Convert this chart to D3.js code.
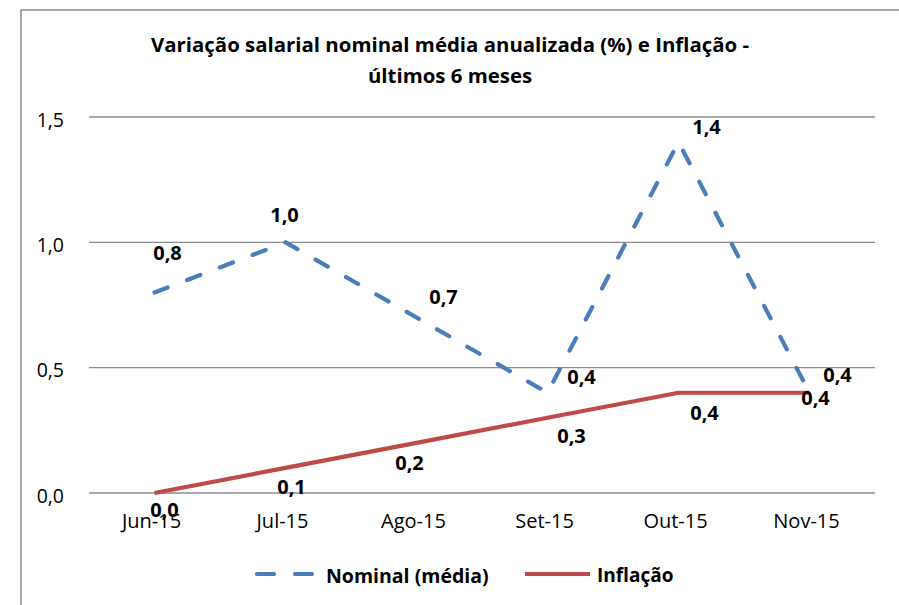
<!DOCTYPE html>
<html>
<head>
<meta charset="utf-8">
<script src="https://cdn.jsdelivr.net/npm/d3@7"></script>
<style>
  html, body { margin: 0; padding: 0; background: #fff; }
  svg { display: block; font-family: "Open Sans", Lato, sans-serif; }
</style>
</head>
<body>
<svg id="chart" width="899" height="605"></svg>
<script>
const categories = ["Jun-15", "Jul-15", "Ago-15", "Set-15", "Out-15", "Nov-15"];
const nominal = [0.8, 1.0, 0.7, 0.4, 1.4, 0.4];
const inflacao = [0.0, 0.1, 0.2, 0.3, 0.4, 0.4];
const yTicks = [0, 0.5, 1.0, 1.5];
const seriesNames = ["Nominal (média)", "Inflação"];
const titleLines = ["Variação salarial nominal média anualizada (%) e Inflação -", "últimos 6 meses"];

// label offsets (style, pixels) relative to points
const nominalLabelOff = [[13, -40], [-1, -28], [27, -21], [34, -16], [28, -16], [28, -18]];
const inflLabelOff = [[10, 16], [6, 19], [-7, 20], [24, 18], [26, 20], [6, 5]];

const FONT = "'Open Sans', Lato, sans-serif";
const svg = d3.select("#chart");
const fmt = v => d3.format(".1f")(v).replace(".", ",");

// chart border
svg.append("path")
  .attr("d", "M21,605 L21,10 L899,10")
  .attr("fill", "none").attr("stroke", "#8c8c8c").attr("stroke-width", 1.5);

const x = d3.scaleBand().domain(categories).range([89, 875]);
const y = d3.scaleLinear().domain([0, 1.5]).range([493, 117]);

// gridlines
svg.append("g").selectAll("line").data(yTicks).join("line")
  .attr("x1", 89).attr("x2", 875)
  .attr("y1", d => y(d)).attr("y2", d => y(d))
  .attr("stroke", "#8c8c8c").attr("stroke-width", 1.3);

// y axis labels
const yAxis = d3.axisLeft(y).tickValues(yTicks).tickFormat(fmt).tickSize(0).tickPadding(0);
const gy = svg.append("g").attr("transform", "translate(64,3)").call(yAxis);
gy.select(".domain").remove();
gy.selectAll("text").attr("font-size", 19.5).attr("fill", "#000").attr("font-family", FONT);

// x axis labels
const xAxis = d3.axisBottom(x).tickSize(0).tickPadding(0);
const gx = svg.append("g").attr("transform", "translate(-3,514)").call(xAxis);
gx.select(".domain").remove();
gx.selectAll("text").attr("font-size", 20).attr("fill", "#000").attr("font-family", FONT);

const cx = (d, i) => x(categories[i]) + x.bandwidth() / 2;

// lines
const line = d3.line().x((d, i) => cx(d, i)).y(d => y(d));
svg.append("path").datum(inflacao)
  .attr("d", line).attr("fill", "none")
  .attr("stroke", "#be4b48").attr("stroke-width", 4.2);
svg.append("path").datum(nominal)
  .attr("d", line).attr("fill", "none")
  .attr("stroke", "#4a7ebb").attr("stroke-width", 4.2)
  .attr("stroke-linecap", "round").attr("stroke-dasharray", "14,21");

// data labels
function labels(data, off) {
  svg.append("g").selectAll("text").data(data).join("text")
    .attr("x", (d, i) => cx(d, i) + off[i][0])
    .attr("y", (d, i) => y(d) + off[i][1])
    .attr("text-anchor", "middle").attr("dominant-baseline", "central")
    .attr("font-size", 20).attr("font-weight", "bold").attr("fill", "#000")
    .text(d => fmt(d));
}
labels(inflacao, inflLabelOff);
labels(nominal, nominalLabelOff);

// title
svg.append("g").selectAll("text").data(titleLines).join("text")
  .attr("x", 450).attr("y", (d, i) => 44 + i * 31)
  .attr("text-anchor", "middle").attr("dominant-baseline", "central")
  .attr("font-size", 20.4).attr("font-weight", "bold").attr("fill", "#000")
  .text(d => d);

// legend
const lg = svg.append("g");
lg.append("line").attr("x1", 257).attr("x2", 312).attr("y1", 574).attr("y2", 574)
  .attr("stroke", "#4a7ebb").attr("stroke-width", 4.2)
  .attr("stroke-linecap", "round").attr("stroke-dasharray", "17,21");
lg.append("text").attr("x", 326).attr("y", 575).attr("dominant-baseline", "central")
  .attr("font-size", 19.5).attr("font-weight", "bold").text(seriesNames[0]);
lg.append("line").attr("x1", 525).attr("x2", 590).attr("y1", 574).attr("y2", 574)
  .attr("stroke", "#be4b48").attr("stroke-width", 4.2);
lg.append("text").attr("x", 597).attr("y", 575).attr("dominant-baseline", "central")
  .attr("font-size", 19).attr("font-weight", "bold").text(seriesNames[1]);
</script>
</body>
</html>
